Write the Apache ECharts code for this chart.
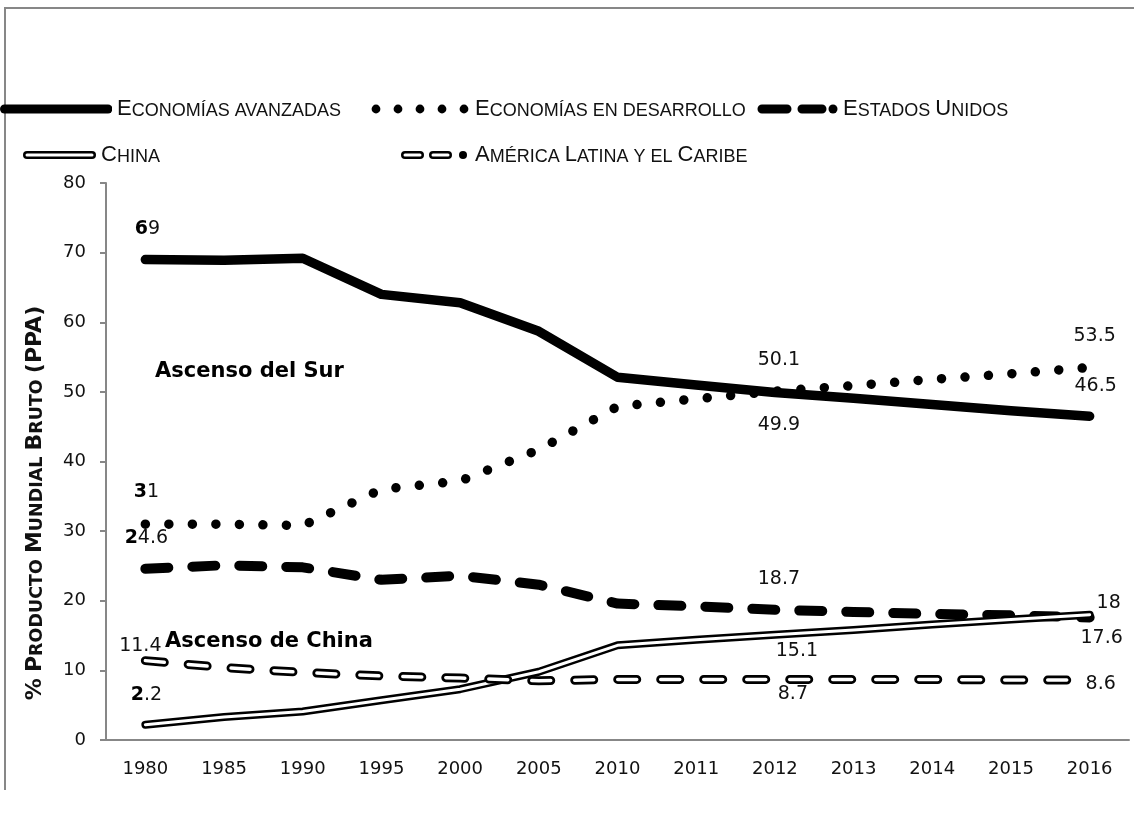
<!DOCTYPE html>
<html>
<head>
<meta charset="utf-8">
<script src="https://cdn.jsdelivr.net/npm/echarts@6/dist/echarts.min.js"></script>
<style>
  html, body { margin: 0; padding: 0; background: #ffffff; }
  #chart { width: 1134px; height: 823px; }
</style>
</head>
<body>
<div id="chart"></div>
<script>
// ---- data (% of gross world product, PPP) ----
const years = ['1980', '1985', '1990', '1995', '2000', '2005', '2010', '2011', '2012', '2013', '2014', '2015', '2016'];
const avanzadas     = [69, 68.9, 69.2, 64.0, 62.8, 58.7, 52.1, 51.0, 49.9, 49.1, 48.2, 47.3, 46.5];
const desarrollo    = [31, 31.0, 30.8, 36.0, 37.2, 41.7, 47.9, 49.0, 50.1, 50.9, 51.8, 52.6, 53.5];
const estadosUnidos = [24.6, 25.1, 24.8, 23.0, 23.6, 22.3, 19.6, 19.2, 18.7, 18.4, 18.1, 17.9, 17.6];
const china         = [2.2, 3.3, 4.1, 5.7, 7.3, 9.8, 13.6, 14.4, 15.1, 15.8, 16.6, 17.3, 18.0];
const americaLatina = [11.4, 10.4, 9.7, 9.2, 8.9, 8.5, 8.7, 8.7, 8.7, 8.7, 8.7, 8.6, 8.6];

const seriesNames = ['Economías avanzadas', 'Economías en desarrollo', 'Estados Unidos', 'China', 'América Latina y el Caribe'];
const yMin = 0, yMax = 80, yStep = 10;
const yAxisTitle = '% Producto Mundial Bruto (PPA)';
const notaSur = 'Ascenso del Sur';
const notaChina = 'Ascenso de China';

// which points carry a value label, and where the label sits relative to the point
const labelSpots = {
  avanzadas:     { 0: { off: [2, -31], boldFirst: true }, 8: { off: [4, 32] }, 12: { off: [6, -30] } },
  desarrollo:    { 0: { off: [1, -32], boldFirst: true }, 8: { off: [4, -31] }, 12: { off: [5, -31] } },
  estadosUnidos: { 0: { off: [1, -31], boldFirst: true }, 8: { off: [4, -31] }, 12: { off: [12, 21] } },
  china:         { 0: { off: [1, -30], boldFirst: true }, 8: { off: [22, 16] }, 12: { off: [19, -12] } },
  americaLatina: { 0: { off: [-5, -15] }, 8: { off: [18, 15] }, 12: { off: [11, 4] } }
};

const NUM_FONT = '"DejaVu Sans", Verdana, sans-serif';
const TXT_FONT = '"Liberation Sans", Arial, sans-serif';
const INK = '#111111';
const AXIS_GREY = '#878787';

// "Small caps": capitals keep a large size, lower-case letters become small capitals
function smallCaps(str) {
  let out = '', kind = null, buf = '';
  for (const ch of str) {
    const isLower = ch !== ch.toUpperCase();
    const k = (isLower || ch === ' ') ? 's' : 'c';
    if (k !== kind && buf) { out += '{' + kind + '|' + buf + '}'; buf = ''; }
    kind = k;
    buf += ch.toUpperCase();
  }
  if (buf) out += '{' + kind + '|' + buf + '}';
  return out;
}

function withLabels(values, key) {
  const spots = labelSpots[key];
  return values.map((v, i) => {
    const s = spots[i];
    if (!s) return v;
    return {
      value: v,
      label: {
        show: true,
        position: 'inside',
        offset: s.off,
        fontFamily: NUM_FONT,
        fontSize: 19,
        color: INK,
        formatter: (p) => {
          const t = String(p.value);
          return s.boldFirst ? '{b|' + t[0] + '}{r|' + t.slice(1) + '}' : '{r|' + t + '}';
        },
        rich: {
          b: { fontFamily: NUM_FONT, fontSize: 19, fontWeight: 'bold', color: '#000' },
          r: { fontFamily: NUM_FONT, fontSize: 19, color: INK }
        }
      }
    };
  });
}

function svgIcon(w, h, body) {
  const svg = '<svg xmlns="http://www.w3.org/2000/svg" width="' + w + '" height="' + h +
    '" viewBox="0 0 ' + w + ' ' + h + '">' + body + '</svg>';
  return 'image://data:image/svg+xml;charset=utf-8,' + encodeURIComponent(svg);
}

const ICON_H = 20;
const legendIcons = [
  { w: 112, body: '<line x1="4.5" y1="10" x2="108" y2="10" stroke="#000" stroke-width="9" stroke-linecap="round"/>' },
  { w: 100, body: [6, 28, 50, 72, 94].map(c => '<circle cx="' + c + '" cy="10" r="4.4" fill="#000"/>').join('') },
  { w: 81, body: '<path d="M5 10H30M45 10H65" stroke="#000" stroke-width="9" stroke-linecap="round" fill="none"/><circle cx="76" cy="10" r="4.5" fill="#000"/>' },
  { w: 73, body: '<line x1="4" y1="10" x2="69" y2="10" stroke="#000" stroke-width="8" stroke-linecap="round"/><line x1="4" y1="10" x2="69" y2="10" stroke="#fff" stroke-width="3" stroke-linecap="round"/>' },
  { w: 70, body: '<path d="M5 10H20M33 10H48" stroke="#000" stroke-width="8" stroke-linecap="round" fill="none"/><path d="M5 10H20M33 10H48" stroke="#fff" stroke-width="3" stroke-linecap="round" fill="none"/><circle cx="63" cy="10" r="4" fill="#000"/>' }
];
const legendSpots = [
  { left: 0, top: 98 },
  { left: 370, top: 98 },
  { left: 757, top: 98 },
  { left: 23, top: 144 },
  { left: 400, top: 144 }
];

const legendText = {
  fontFamily: TXT_FONT,
  color: INK,
  rich: {
    c: { fontFamily: TXT_FONT, fontSize: 22, color: INK, verticalAlign: 'bottom' },
    s: { fontFamily: TXT_FONT, fontSize: 18, color: INK, verticalAlign: 'bottom' }
  }
};

const legends = seriesNames.map((name, i) => ({
  data: [name],
  left: legendSpots[i].left,
  top: legendSpots[i].top,
  orient: 'horizontal',
  padding: 0,
  itemGap: 0,
  itemWidth: legendIcons[i].w,
  itemHeight: ICON_H,
  icon: svgIcon(legendIcons[i].w, ICON_H, legendIcons[i].body),
  selectedMode: false,
  formatter: (n) => smallCaps(n),
  textStyle: legendText
}));

const baseLine = {
  type: 'line',
  silent: true,
  animation: false,
  emphasis: { disabled: true },
  showAllSymbol: true,
  symbol: 'circle',
  symbolSize: 1,
  itemStyle: { color: 'rgba(0,0,0,0)' },
  color: '#000'
};

const option = {
  backgroundColor: '#ffffff',
  animation: false,
  legend: legends,
  grid: { left: 106, top: 183, width: 1023, height: 557, containLabel: false },
  xAxis: {
    type: 'category',
    data: years,
    boundaryGap: true,
    axisLine: { show: true, lineStyle: { color: AXIS_GREY, width: 2 } },
    axisTick: { show: false },
    axisLabel: { fontFamily: NUM_FONT, fontSize: 18, color: INK, margin: 20 },
    splitLine: { show: false }
  },
  yAxis: {
    type: 'value',
    min: yMin, max: yMax, interval: yStep,
    axisLine: { show: true, lineStyle: { color: AXIS_GREY, width: 2 } },
    axisTick: { show: true, inside: false, length: 6, lineStyle: { color: AXIS_GREY, width: 2 } },
    axisLabel: { fontFamily: NUM_FONT, fontSize: 18, color: INK, margin: 20 },
    splitLine: { show: false }
  },
  series: [
    Object.assign({}, baseLine, {
      name: seriesNames[0],
      data: withLabels(avanzadas, 'avanzadas'),
      lineStyle: { color: '#000', width: 9.5, cap: 'round', join: 'round' }
    }),
    Object.assign({}, baseLine, {
      name: seriesNames[1],
      data: withLabels(desarrollo, 'desarrollo'),
      lineStyle: { color: '#000', width: 9.5, type: [0.01, 23.5], cap: 'round', join: 'round' }
    }),
    Object.assign({}, baseLine, {
      name: seriesNames[2],
      data: withLabels(estadosUnidos, 'estadosUnidos'),
      lineStyle: { color: '#000', width: 10, type: [23, 24], cap: 'round', join: 'round' }
    }),
    Object.assign({}, baseLine, {
      name: seriesNames[3],
      data: withLabels(china, 'china'),
      lineStyle: { color: '#000', width: 8, cap: 'round', join: 'round' }
    }),
    Object.assign({}, baseLine, {
      name: 'China (interior)',
      data: china,
      symbol: 'none',
      lineStyle: { color: '#fff', width: 3, cap: 'round', join: 'round' }
    }),
    Object.assign({}, baseLine, {
      name: seriesNames[4],
      data: withLabels(americaLatina, 'americaLatina'),
      lineStyle: { color: '#000', width: 9, type: [19, 24], cap: 'round', join: 'round' }
    }),
    Object.assign({}, baseLine, {
      name: 'América Latina (interior)',
      data: americaLatina,
      symbol: 'none',
      lineStyle: { color: '#fff', width: 3.5, type: [19, 24], cap: 'round', join: 'round' }
    })
  ],
  graphic: [
    {
      type: 'polyline',
      silent: true,
      shape: { points: [[5, 790], [5, 8], [1140, 8]] },
      style: { stroke: AXIS_GREY, lineWidth: 2, fill: null }
    },
    {
      type: 'text',
      silent: true,
      x: 35, y: 503,
      rotation: Math.PI / 2,
      style: {
        text: smallCaps(yAxisTitle),
        align: 'center',
        verticalAlign: 'middle',
        fill: INK,
        rich: {
          c: { fontFamily: NUM_FONT, fontWeight: 'bold', fontSize: 22, fill: INK, verticalAlign: 'bottom' },
          s: { fontFamily: NUM_FONT, fontWeight: 'bold', fontSize: 17.5, fill: INK, verticalAlign: 'bottom' }
        }
      }
    },
    {
      type: 'text', silent: true, x: 155, y: 372,
      style: { text: notaSur, fontFamily: NUM_FONT, fontWeight: 'bold', fontSize: 21, fill: '#000', verticalAlign: 'middle' }
    },
    {
      type: 'text', silent: true, x: 165, y: 642,
      style: { text: notaChina, fontFamily: NUM_FONT, fontWeight: 'bold', fontSize: 21, fill: '#000', verticalAlign: 'middle' }
    }
  ]
};

const chart = echarts.init(document.getElementById('chart'), null, { renderer: 'canvas' });
chart.setOption(option);
</script>
</body>
</html>
